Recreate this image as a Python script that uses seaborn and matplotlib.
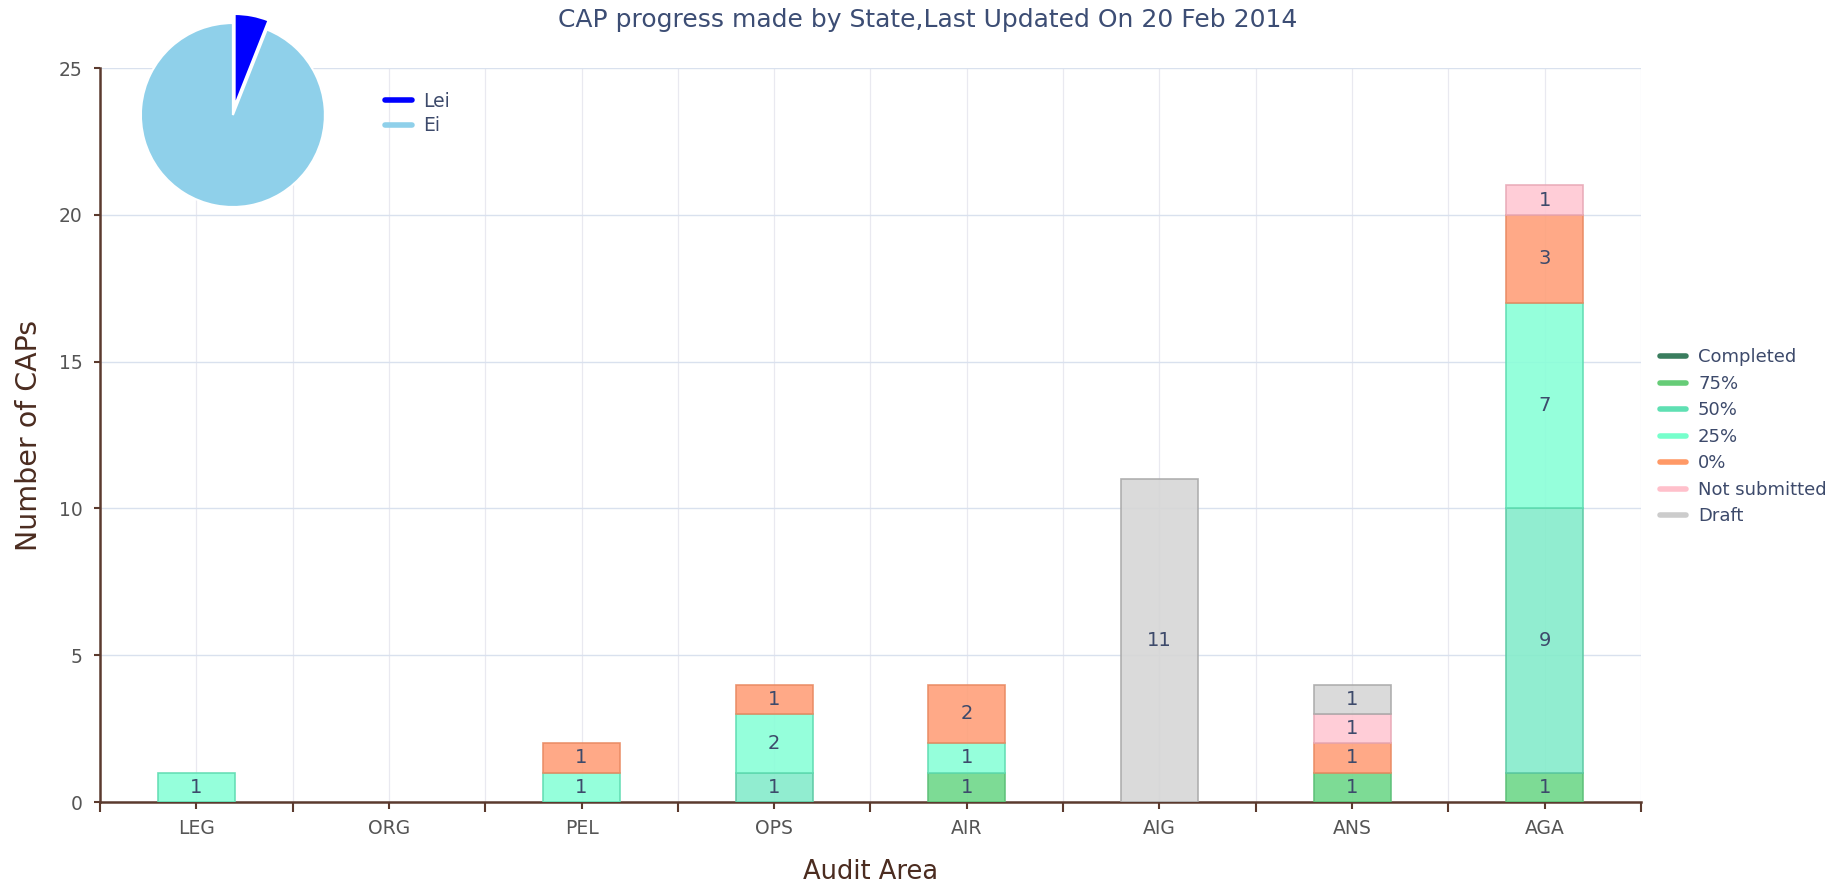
import numpy as np
import pandas as pd
import matplotlib
matplotlib.use("Agg")
import matplotlib.pyplot as plt
from matplotlib.lines import Line2D
from matplotlib.ticker import MultipleLocator, FixedLocator
import seaborn as sns

# ── data ────────────────────────────────────────────────────────────────────
AREAS = ["LEG", "ORG", "PEL", "OPS", "AIR", "AIG", "ANS", "AGA"]
STATUSES = ["Completed", "75%", "50%", "25%", "0%", "Not submitted", "Draft"]

completed     = [0, 0, 0, 0, 0, 0, 0, 0]
pct_75        = [0, 0, 0, 0, 1, 0, 1, 1]
pct_50        = [0, 0, 0, 1, 0, 0, 0, 9]
pct_25        = [1, 0, 1, 2, 1, 0, 0, 7]
pct_0         = [0, 0, 1, 1, 2, 0, 1, 3]
not_submitted = [0, 0, 0, 0, 0, 0, 1, 1]
draft         = [0, 0, 0, 0, 0, 11, 1, 0]

PIE_LABELS = ["Lei", "Ei"]
PIE_VALUES = [6, 94]

# ── style ───────────────────────────────────────────────────────────────────
FILL   = ["#2e8b57", "#6fd88a", "#85eccb", "#8affd8", "#ffa07a", "#ffc8d3", "#d6d6d6"]
EDGE   = ["#2a6e4a", "#5bbf76", "#5cc9a4", "#5fdcb1", "#e98a62", "#e8a9b6", "#a9a9a9"]
LEGEND = ["#3a7d5e", "#66cc77", "#5fe0b3", "#77ffcc", "#ff9966", "#ffc0cb", "#cccccc"]
PIE_COLORS = ["#0000ff", "#8fd0ea"]

BROWN = "#5b3a2e"
SLATE = "#3d4a6b"
TICK  = "#555555"

sns.set_theme(style="white")
plt.rcParams["font.family"] = ["DejaVu Sans"]

series = [completed, pct_75, pct_50, pct_25, pct_0, not_submitted, draft]
df = pd.DataFrame({
    "area":   np.tile(AREAS, len(STATUSES)),
    "status": np.repeat(STATUSES, len(AREAS)),
    "count":  np.concatenate(series),
})

fig = plt.figure(figsize=(18.47, 8.82), dpi=100)
ax = fig.add_axes([0.0541, 0.0907, 0.8344, 0.8322])

bottom = np.zeros(len(AREAS))
for status, fc, ec in zip(STATUSES, FILL, EDGE):
    sub = df[df["status"] == status]
    n_before = len(ax.patches)
    sns.barplot(data=sub, x="area", y="count", order=AREAS, color=fc,
                saturation=1, width=0.4, errorbar=None, bottom=bottom.copy(),
                edgecolor=ec, linewidth=1.2, alpha=0.9, zorder=3, ax=ax)
    # zero-height segments would leave a stray edge line
    for p in ax.patches[n_before:]:
        if p.get_height() == 0:
            p.set_visible(False)
    vals = sub["count"].to_numpy()
    ax.bar_label(ax.containers[-1],
                 labels=[str(v) if v > 0 else "" for v in vals],
                 label_type="center", color=SLATE, fontsize=14, zorder=4)
    bottom += vals

ax.set_xlim(-0.5, len(AREAS) - 0.5)
ax.set_ylim(0, 25)
ax.yaxis.set_major_locator(MultipleLocator(5))
ax.xaxis.set_minor_locator(FixedLocator(np.arange(-0.5, len(AREAS), 1)))

ax.set_axisbelow(True)
ax.yaxis.grid(True, color="#d9e1ee", linewidth=1)
ax.xaxis.grid(True, which="both", color="#e9e9f0", linewidth=0.9)

for side in ["top", "right"]:
    ax.spines[side].set_visible(False)
for side in ["left", "bottom"]:
    ax.spines[side].set_color(BROWN)
    ax.spines[side].set_linewidth(1.8)

ax.tick_params(axis="x", which="major", length=5, width=1.5, color=BROWN,
               direction="out", bottom=True, labelsize=13.5, labelcolor=TICK, pad=7)
ax.tick_params(axis="x", which="minor", length=7, width=1.5, color=BROWN,
               direction="out", bottom=True)
ax.tick_params(axis="y", length=4.5, width=1.5, color=BROWN, direction="out",
               left=True, labelsize=13.5, labelcolor=TICK, pad=8)

ax.set_xlabel("Audit Area", fontsize=18.5, color="#4b2c20")
ax.set_ylabel("Number of CAPs", fontsize=20.5, color="#4b2c20")
ax.xaxis.set_label_coords(0.5, -0.096)
ax.xaxis.label.set_va("center")
ax.yaxis.set_label_coords(-0.046, 0.5)
ax.yaxis.label.set_va("center")

fig.text(0.502, 0.977, "CAP progress made by State,Last Updated On 20 Feb 2014",
         ha="center", va="center", fontsize=18, color="#3c4d74")

handles = [Line2D([], [], color=c, lw=4) for c in LEGEND]
fig.legend(handles, STATUSES, loc="upper left", bbox_to_anchor=(0.8988, 0.605),
           bbox_transform=fig.transFigure, frameon=False, fontsize=13,
           labelcolor=SLATE, handlelength=1.45, handletextpad=0.65,
           labelspacing=0.47, borderpad=0, borderaxespad=0)

# ── pie inset ───────────────────────────────────────────────────────────────
pax = fig.add_axes([0.0763, 0.7653, 0.0996, 0.2086], zorder=5)
wedges, _ = pax.pie(PIE_VALUES, colors=PIE_COLORS, startangle=90,
                    counterclock=False, explode=[0.1, 0],
                    wedgeprops=dict(edgecolor="white", linewidth=1.5))
for w in wedges:
    w.set_clip_on(False)
pax.set_xlim(-1, 1)
pax.set_ylim(-1, 1)
pax.set_aspect("equal")
pax.axis("off")

pie_handles = [Line2D([], [], color=c, lw=4) for c in PIE_COLORS]
fig.legend(pie_handles, PIE_LABELS, loc="upper left", bbox_to_anchor=(0.2084, 0.896),
           bbox_transform=fig.transFigure, frameon=False, fontsize=13.5,
           labelcolor=SLATE, handlelength=1.45, handletextpad=0.6,
           labelspacing=0.3, borderpad=0, borderaxespad=0)

fig.savefig("out.png", dpi=100)
